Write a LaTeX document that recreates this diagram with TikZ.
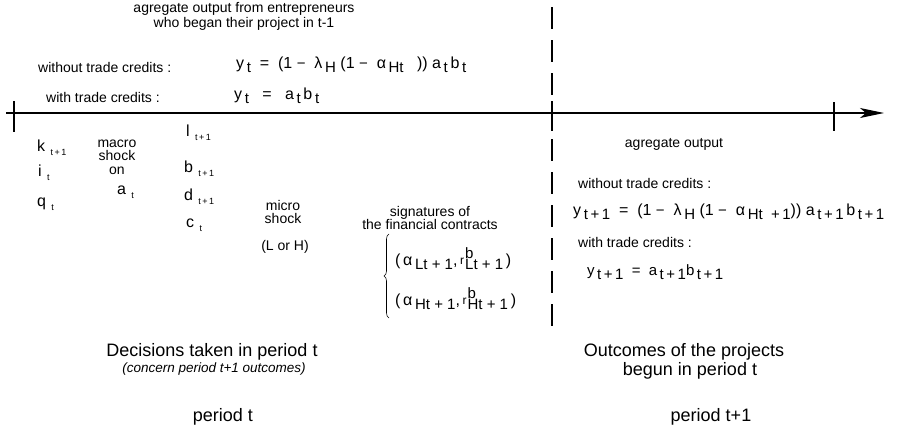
\documentclass[tikz,border=0pt]{standalone}
\usepackage{fontspec}
\setmainfont{Liberation Sans}
\usetikzlibrary{arrows.meta,decorations.pathreplacing}
\newcommand\lsub[1]{\,\raisebox{-0.5ex}{\fontsize{15}{15}\selectfont #1}}
\newcommand\tsub[1]{\,\,\raisebox{-0.5ex}{\fontsize{9}{9}\selectfont #1}}
\newcommand\mns{{\fontsize{15}{15}\selectfont −}}
\newcommand\rbsub[1]{\raisebox{0.1ex}{\fontsize{12}{12}\selectfont r}\kern1pt\raisebox{-0.5ex}{\fontsize{15}{15}\selectfont\begin{tabular}[b]{@{}l@{}}b\\[-4pt]#1\end{tabular}}}
\begin{document}
\begin{tikzpicture}[x=1pt,y=-1pt,
  lbl/.style={inner sep=0pt, font=\fontsize{14}{15}\selectfont},
  eqn/.style={inner sep=0pt, anchor=west, font=\fontsize{16}{18}\selectfont},
  big/.style={inner sep=0pt, font=\fontsize{18}{20}\selectfont},
  var/.style={inner sep=0pt, anchor=west, font=\fontsize{16}{18}\selectfont},
  tickline/.style={line width=1.6pt},
  axisline/.style={line width=1.3pt}]
\useasboundingbox (0,0) rectangle (900,434);
% axis
\coordinate (a0) at (6,113);
\coordinate (a1) at (884,113);
\draw[axisline,-{Stealth[length=24pt,width=10pt,inset=6pt]}] (a0) -- (a1);
\coordinate (t0a) at (14,101); \coordinate (t0b) at (14,132);
\coordinate (t1a) at (552,101); \coordinate (t1b) at (552,131);
\coordinate (t2a) at (834,102); \coordinate (t2b) at (834,131);
\draw[tickline] (t0a) -- (t0b);
\draw[tickline] (t1a) -- (t1b);
\draw[tickline] (t2a) -- (t2b);
% dashed separator
\coordinate (d0) at (552,7);
\coordinate (d1) at (552,328);
\draw[line width=1.1pt, dash pattern=on 22pt off 11pt] (d0) -- (d1);

% top texts
\node[lbl, align=center] (topt) at (244,16) {agregate output from entrepreneurs\\who began their project in t-1};
\node[lbl, anchor=west] (wo1) at (38,67) {without trade credits :};
\node[lbl, anchor=west] (wi1) at (46,97) {with trade credits :};
\node[eqn] (eq1) at (236,65) {y\lsub{t}\ \ =\ \ (1\ \mns\ \ λ\lsub{H}\ (1\ \mns\ \ α\lsub{Ht}\ \ \ ))\ a\lsub{t}\,b\lsub{t}};
\node[eqn] (eq2) at (234,96) {y\lsub{t}\ \ \ =\ \ \ a\lsub{t}\,b\lsub{t}};

% left column
\node[var] (k) at (37,148) {k\tsub{t\,+\,1}};
\node[var] (i) at (38,173) {i\tsub{t}};
\node[var] (q) at (37,204) {q\tsub{t}};
\node[lbl, align=center] (macro) at (117,157) {macro\\[-1.5pt]shock\\[-1.5pt]on};
\node[var] (a) at (117,192) {a\tsub{t}};
\node[var] (l) at (186,133) {l\tsub{t\,+\,1}};
\node[var] (b) at (184,169) {b\tsub{t\,+\,1}};
\node[var] (d) at (184,197) {d\tsub{t\,+\,1}};
\node[var] (c) at (186,225) {c\tsub{t}};
\node[lbl, align=center] (micro) at (283,212) {micro\\[-1.5pt]shock};
\node[lbl] (LH) at (285,247) {(L or H)};
\node[lbl, align=center] (sig) at (430,218) {signatures of\\[-1.5pt]the financial contracts};
\coordinate (br0) at (389,318);
\coordinate (br1) at (389,234);
\draw[line width=0.6pt, decorate, decoration={brace, amplitude=5pt}] (br0) -- (br1);
\node[eqn] (sL) at (395,261) {(\,α\lsub{Lt\ +\ 1},\,\rbsub{Lt\ +\ 1}\,)};
\node[eqn] (sH) at (395,301) {(\,α\lsub{Ht\ +\ 1},\,\rbsub{Ht\ +\ 1}\,)};

% right side
\node[lbl] (agr) at (674,144) {agregate output};
\node[lbl, anchor=west] (wo2) at (578,183) {without trade credits :};
\node[eqn] (eq3) at (573,212) {y\lsub{t\,+\,1}\ \ =\ \ (1\ \mns\ \ λ\lsub{H}\ (1\ \mns\ \ α\lsub{Ht\ \ +\,1}))\ a\lsub{t\,+\,1}\,b\lsub{t\,+\,1}};
\node[lbl, anchor=west] (wi2) at (578,242) {with trade credits :};
\node[eqn, font=\fontsize{15}{17}\selectfont] (eq4) at (587,272) {y\lsub{t\,+\,1}\ \ =\ \ a\lsub{t\,+\,1}b\lsub{t\,+\,1}};

% bottom
\node[big] (dec) at (212,352) {Decisions taken in period t};
\node[inner sep=0pt, font=\fontsize{13.5}{15}\selectfont\itshape] (conc) at (214,369) {(concern period t+1 outcomes)};
\node[big] (outc) at (684,352) {Outcomes of the projects};
\node[big] (begun) at (690,371) {begun in period t};
\node[big] (pt) at (223,417) {period t};
\node[big] (pt1) at (711,417) {period t+1};
\end{tikzpicture}
\end{document}
